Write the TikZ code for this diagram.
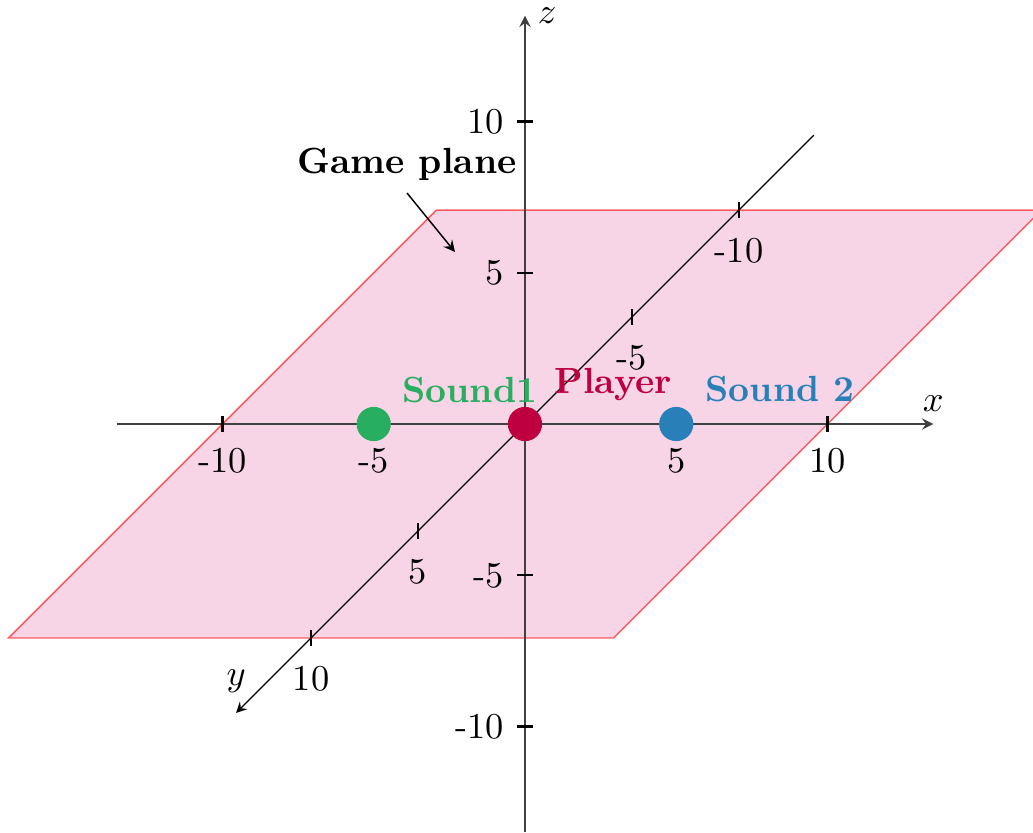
\documentclass[tikz,border=0pt]{standalone}
\usepackage{xcolor}
\usepackage{tikz}
\usetikzlibrary{arrows.meta, positioning}

\definecolor{soundgreen}{RGB}{39,174,96}
\definecolor{soundblue}{RGB}{41,128,185}
\definecolor{playerred}{RGB}{191,0,64}
\definecolor{planepink}{RGB}{241,171,205}

\begin{document}
\begin{tikzpicture}[>=stealth,
    x={(0.2921cm,0cm)}, y={(-0.2066cm,-0.2066cm)}, z={(0cm,0.2921cm)},
    tickmark/.style={line width=0.6pt},
    axisline/.style={->, black!75},
    srcdot/.style={circle, inner sep=0pt, minimum size=9.4pt},
    srclbl/.style={font=\bfseries}]
    \useasboundingbox (-5.069cm,-3.940cm) rectangle (4.905cm,4.094cm);

    % Game plane
    \filldraw[fill=planepink, fill opacity=0.5, draw=red, draw opacity=0.6]
        (-10,-10,0) -- (10,-10,0) -- (10,10,0) -- (-10,10,0) -- cycle;

    % Axes
    \coordinate (xmin) at (-13.5,0,0);
    \coordinate (xmax) at (13.5,0,0);
    \coordinate (ymin) at (0,-13.5,0);
    \coordinate (ymax) at (0,13.5,0);
    \coordinate (zmin) at (0,0,-13.5);
    \coordinate (zmax) at (0,0,13.5);
    \draw[axisline] (xmin) -- (xmax);
    \draw[axisline] (zmin) -- (zmax);
    \draw[->, black, line width=0.3pt] (ymin) -- (ymax);
    \node[above] (xlbl) at (xmax) {$x$};
    \node[above, yshift=2pt] (ylbl) at (ymax) {$y$};
    \node[right] (zlbl) at (zmax) {$z$};

    % Ticks
    \foreach \v in {-10,-5,5,10} {
        \draw[tickmark] (\v,0,0.26) -- (\v,0,-0.26) node[below, yshift=-1pt] (xt\v) {\v};
        \draw[tickmark] (0,\v,0.26) -- (0,\v,-0.26) node[below, yshift=-2pt] (yt\v) {\v};
        \draw[tickmark] (0.26,0,\v) -- (-0.26,0,\v) node[left] (zt\v) {\v};
    }

    % Sounds and player
    \node[srcdot, fill=soundgreen] (sound1) at (-5,0,0) {};
    \node[srcdot, fill=playerred] (player) at (0,0,0) {};
    \node[srcdot, fill=soundblue] (sound2) at (5,0,0) {};
    \node[srclbl, text=soundgreen] (sound1lbl) at (-0.531cm,0.328cm) {Sound1};
    \node[srclbl, text=playerred] (playerlbl) at (0.850cm,0.386cm) {Player};
    \node[srclbl, text=soundblue] (sound2lbl) at (2.462cm,0.338cm) {Sound 2};

    % Label of the plane
    \node[srclbl] (planelbl) at (-1.139cm,2.511cm) {Game plane};
    \coordinate (planept) at (-0.676cm,1.661cm);
    \draw[->] (planelbl.south) -- (planept);
\end{tikzpicture}
\end{document}
